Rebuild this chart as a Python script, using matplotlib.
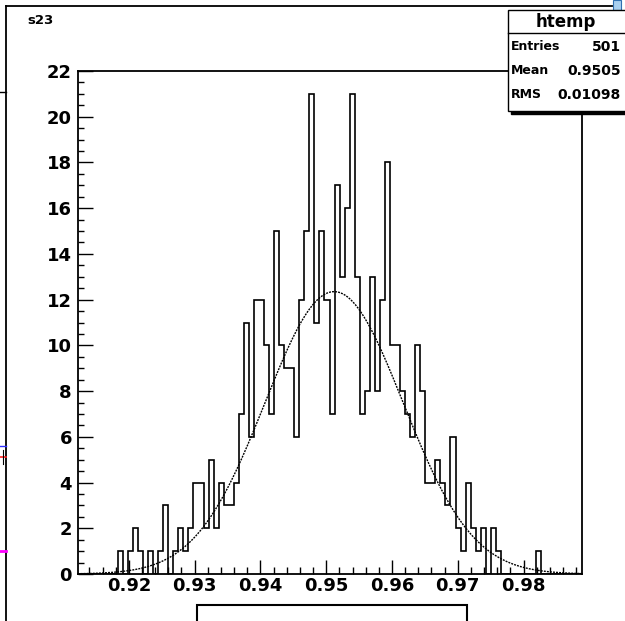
import numpy as np
import matplotlib
matplotlib.use("Agg")
import matplotlib.pyplot as plt
from matplotlib.patches import Rectangle
from matplotlib.lines import Line2D

# ---------------- data ----------------
x_min, x_max = 0.9122, 0.9888
n_bins = 100
bin_counts = [
    0, 0, 0, 0, 0, 0, 0, 0, 1, 0,
    1, 2, 1, 0, 1, 0, 1, 3, 0, 1,
    2, 1, 2, 4, 4, 2, 5, 2, 4, 3,
    3, 4, 7, 11, 6, 12, 12, 10, 7, 15,
    10, 9, 9, 6, 12, 15, 21, 11, 15, 12,
    7, 17, 13, 16, 21, 13, 7, 8, 13, 8,
    12, 18, 10, 10, 8, 7, 6, 10, 8, 4,
    4, 5, 4, 3, 6, 2, 1, 4, 2, 1,
    2, 0, 2, 1, 0, 0, 0, 0, 0, 0,
    0, 1, 0, 0, 0, 0, 0, 0, 0, 0,
]
fit_amp, fit_mean, fit_sigma = 12.35, 0.9512, 0.0105
x_major = [0.92, 0.93, 0.94, 0.95, 0.96, 0.97, 0.98]
x_labels = ["0.92", "0.93", "0.94", "0.95", "0.96", "0.97", "0.98"]
y_major = list(range(0, 23, 2))
title_text = "s23"
stats_name = "htemp"
stats_rows = [("Entries", "501"), ("Mean", "0.9505"), ("RMS", "0.01098")]

# ---------------- figure ----------------
W, H = 625, 621
fig = plt.figure(figsize=(W / 100, H / 100), dpi=100)
fig.patch.set_facecolor("white")

def fx(px):
    return px / W

def fy(py):
    return 1 - py / H

ax_l, ax_r, ax_t, ax_b = 77.5, 581.5, 71.0, 574.0
ax = fig.add_axes([fx(ax_l), fy(ax_b), (ax_r - ax_l) / W, (ax_b - ax_t) / H])

edges = np.linspace(x_min, x_max, n_bins + 1)
ax.stairs(bin_counts, edges, color="black", lw=1.2, baseline=0)

xs = np.linspace(x_min, x_max, 600)
ax.plot(xs, fit_amp * np.exp(-0.5 * ((xs - fit_mean) / fit_sigma) ** 2),
        color="black", lw=1.0, linestyle=(0, (1.4, 0.8)))

ax.set_xlim(x_min, x_max)
ax.set_ylim(0, 22)
ax.set_xticks(x_major)
ax.set_xticklabels(x_labels)
ax.set_xticks(np.arange(0.914, 0.989, 0.002), minor=True)
ax.set_yticks(y_major)
ax.set_yticklabels([str(v) for v in y_major])
ax.set_yticks(np.arange(0, 22.01, 0.5), minor=True)

for s in ax.spines.values():
    s.set_linewidth(1.3)
ax.tick_params(axis="x", which="major", direction="in", length=10, width=1.0,
               pad=2, labelsize=13, top=False)
ax.tick_params(axis="x", which="minor", direction="in", length=5, width=1.0, top=False)
ax.tick_params(axis="y", which="major", direction="in", length=11, width=1.0,
               pad=4, labelsize=13, right=False)
ax.tick_params(axis="y", which="minor", direction="in", length=4.5, width=1.0, right=False)
for lab in ax.get_xticklabels() + ax.get_yticklabels():
    lab.set_fontweight("bold")
    lab.set_family("DejaVu Sans")

# ---------------- canvas decorations ----------------
fig.add_artist(Line2D([fx(5.5), fx(5.5)], [fy(5.5), fy(625)], color="black", lw=1.3))
fig.add_artist(Line2D([fx(5.5), fx(612)], [fy(5.5), fy(5.5)], color="black", lw=1.3))
fig.add_artist(Line2D([fx(0), fx(5.5)], [fy(92), fy(92)], color="black", lw=1.0))
fig.add_artist(Line2D([fx(0), fx(5.5)], [fy(446), fy(446)], color="#3030ff", lw=1.0))
fig.add_artist(Line2D([fx(0), fx(5.5)], [fy(457), fy(457)], color="#ff2020", lw=1.2))
fig.add_artist(Line2D([fx(3), fx(3)], [fy(450), fy(464)], color="black", lw=0.8))
fig.add_artist(Line2D([fx(0), fx(5.5)], [fy(551), fy(551)], color="#ff00ff", lw=2.0))
fig.add_artist(Rectangle((fx(613), fy(14)), 8 / W, 14 / H, facecolor="#a8d0f0",
                         edgecolor="#3070b0", lw=0.8))

fig.text(fx(27), fy(20), title_text, fontsize=9.5, fontweight="bold",
         family="DejaVu Sans", va="center", ha="left")

bx_l, bx_t, bx_r, bx_b = 508, 10, 640, 111
fig.add_artist(Rectangle((fx(bx_l + 3), fy(bx_b + 3)), (bx_r - bx_l) / W,
                         (bx_b - bx_t) / H, facecolor="black", edgecolor="black"))
fig.add_artist(Rectangle((fx(bx_l), fy(bx_b)), (bx_r - bx_l) / W, (bx_b - bx_t) / H,
                         facecolor="white", edgecolor="black", lw=1.0))
fig.add_artist(Line2D([fx(bx_l), fx(bx_r)], [fy(33), fy(33)], color="black", lw=1.0))
fig.text(fx(566), fy(22), stats_name, fontsize=12, fontweight="bold",
         family="DejaVu Sans", ha="center", va="center")
for i, (k, v) in enumerate(stats_rows):
    yy = fy(47 + 24 * i)
    fig.text(fx(511), yy, k, fontsize=9, fontweight="bold",
             family="DejaVu Sans", ha="left", va="center")
    fig.text(fx(621), yy, v, fontsize=10, fontweight="bold",
             family="DejaVu Sans", ha="right", va="center")

fig.add_artist(Rectangle((fx(197), fy(630)), 270 / W, 25 / H, facecolor="white",
                         edgecolor="black", lw=1.5))

fig.savefig("out.png", dpi=100)
